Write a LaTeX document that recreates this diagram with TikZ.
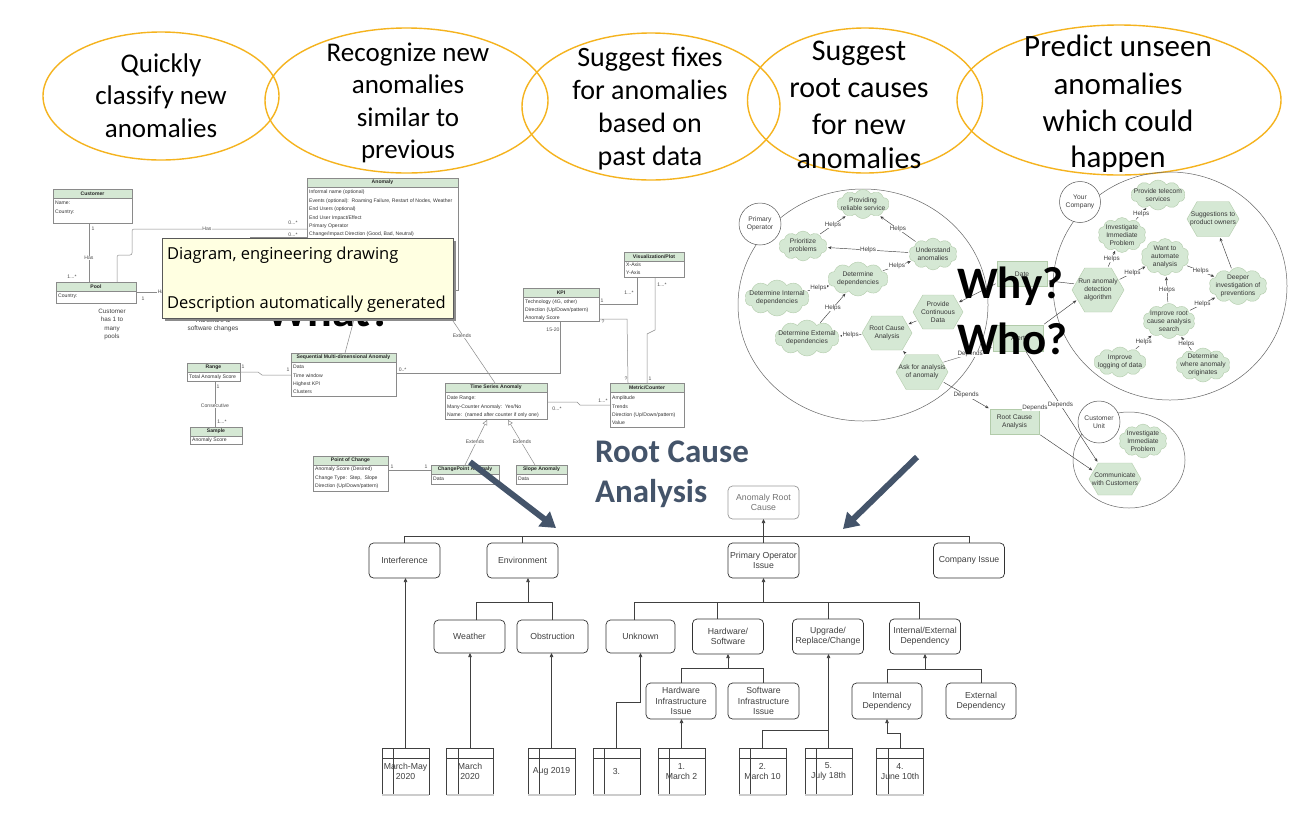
\documentclass[tikz,border=0pt]{standalone}
\usepackage{fontspec}
\setmainfont{Carlito}
\newfontfamily\arialf{Liberation Sans}
\newfontfamily\segoef{Open Sans}
\usetikzlibrary{arrows.meta,shapes.symbols,shapes.geometric}
\definecolor{gold}{HTML}{F5B31E}
\definecolor{umlhead}{HTML}{D5E8D4}
\definecolor{umlline}{HTML}{8A8A8A}
\definecolor{slate}{HTML}{44546A}
\definecolor{cgreen}{HTML}{D5E8D4}
\definecolor{cline}{HTML}{B2CBAA}
\definecolor{popfill}{HTML}{FFFFE1}
\tikzset{
  goldell/.style={draw=gold, line width=1.4pt},
  bub/.style={font=\fontsize{#1}{#1}\selectfont, anchor=base, inner sep=0pt, text=black},
  umlframe/.style={rectangle, draw=umlline, fill=white, line width=0.5pt, inner sep=0pt, outer sep=0pt},
  umlhd/.style={draw=umlline, fill=umlhead, line width=0.5pt},
  umlt/.style={font=\arialf\bfseries\fontsize{5.1}{6}\selectfont, inner sep=0pt, text=black!85},
  umlx/.style={font=\arialf\fontsize{5.1}{#1}\selectfont, inner sep=0pt, anchor=north west, align=left, text=black!80},
  umlc/.style={draw=umlline, line width=0.5pt},
  umll/.style={font=\arialf\fontsize{5.1}{6}\selectfont, inner sep=0.6pt, text=black!70},
  cld/.style={cloud, cloud puffs=10, cloud puff arc=120, cloud ignores aspect, fill=cgreen, draw=cline, line width=0.4pt, inner sep=0pt, outer sep=0pt},
  hexs/.style={signal, signal to=east and west, signal pointer angle=120, fill=cgreen, draw=cline, line width=0.4pt, inner sep=0pt, outer sep=0pt},
  grect/.style={rectangle, fill=cgreen, draw=cline, line width=0.5pt, inner sep=0pt, outer sep=0pt},
  ctx/.style={font=\arialf\fontsize{6.7}{8.2}\selectfont, text=black!78, align=center, inner sep=0pt},
  scirc/.style={circle, draw=black!65, fill=white, line width=0.5pt, inner sep=0pt, font=\arialf\fontsize{6.7}{8.2}\selectfont, text=black!75, align=center},
  bigc/.style={draw=black!60, line width=0.5pt},
  carr/.style={draw=black!75, line width=0.45pt, -{Stealth[length=3.5pt,width=3pt]}, shorten >=1.5pt, shorten <=1.5pt},
  cln/.style={draw=black!55, line width=0.45pt, shorten >=1pt, shorten <=1pt},
  hl/.style={font=\arialf\fontsize{6.3}{7}\selectfont, fill=white, inner sep=0.4pt, text=black!75},
  bigq/.style={font=\bfseries\fontsize{46}{50}\selectfont, anchor=base west, inner sep=0pt, text=black},
  tb/.style={rectangle, draw=black!80, line width=0.7pt, rounded corners=4.5pt, fill=white, font=\arialf\fontsize{8.7}{10.3}\selectfont, text=black!75, align=center, inner sep=0pt, outer sep=0pt, minimum width=71pt, minimum height=35pt},
  tl/.style={draw=black!75, line width=0.7pt},
  ta/.style={tl, -{Triangle[length=4pt,width=3.5pt]}},
  evb/.style={rectangle, inner sep=0pt, outer sep=0pt, minimum width=47pt, minimum height=47pt, font=\arialf\fontsize{8.7}{10.3}\selectfont, text=black!75, align=center},
  bigarrow/.style={draw=slate, line width=6pt, -{Triangle[length=15pt,width=18pt]}}
}
\newcommand{\umlcls}[6]{%
  \node[umlframe, minimum width={#4-#2}, minimum height={#5-#3}] (#1) at ({(#2+#4)/2},{(#3+#5)/2}) {};
  \draw[umlhd] (#1.north west) rectangle ([yshift=-9pt]#1.north east);
  \node[umlt] (#1h) at ([yshift=-4.5pt]#1.north) {#6};}
\newcommand{\mkcloud}[6]{\node[cld, minimum width=#4pt, minimum height=#5pt] (#1) at (#2,#3) {};\node[ctx] (#1t) at (#2,#3) {#6};}
\newcommand{\mkhex}[6]{\node[hexs, minimum width=#4pt, minimum height=#5pt] (#1) at (#2,#3) {};\node[ctx] (#1t) at (#2,#3) {#6};}
\newcommand{\mkrect}[6]{\node[grect, minimum width=#4pt, minimum height=#5pt] (#1) at (#2,#3) {};\node[ctx] (#1t) at (#2,#3) {#6};}
\newcommand{\evbox}[3]{%
  \node[evb] (#1) at (#2,771.5) {#3};
  \draw[tl] (#1.south west) -- (#1.north west) -- (#1.north east) -- (#1.south east);
  \draw[tl] ([yshift=-10pt]#1.north west) -- ([yshift=-10pt]#1.north east);
  \draw[tl] ([xshift=11.5pt]#1.north west) -- ([xshift=11.5pt]#1.south west);
  \draw[black!20, line width=1.2pt] (#1.south west) -- (#1.south east);}
\begin{document}
\begin{tikzpicture}[x=1pt,y=-1pt]
\useasboundingbox (0,0) rectangle (1300,812);
\fill[white] (0,0) rectangle (1300,812);

% ---------------- goal bubbles
\draw[goldell] (161,96) ellipse [x radius=118pt, y radius=64pt];
\draw[goldell] (406.5,100.5) ellipse [x radius=141.5pt, y radius=72.5pt];
\draw[goldell] (651,106.5) ellipse [x radius=129pt, y radius=73.5pt];
\draw[goldell] (865,100.5) ellipse [x radius=117.5pt, y radius=72.5pt];
\draw[goldell] (1119,100) ellipse [x radius=162pt, y radius=75pt];
\node[bub=27] (b1a) at (161,72) {Quickly};
\node[bub=27] (b1b) at (161,104) {classify new};
\node[bub=27] (b1c) at (161,137) {anomalies};
\node[bub=27] (b2a) at (408,61) {Recognize new};
\node[bub=27] (b2b) at (408,93.5) {anomalies};
\node[bub=27] (b2c) at (408,126) {similar to};
\node[bub=27] (b2d) at (408,158.5) {previous};
\node[bub=28] (b3a) at (650,66) {Suggest fixes};
\node[bub=28] (b3b) at (650,99) {for anomalies};
\node[bub=28] (b3c) at (650,132) {based on};
\node[bub=28] (b3d) at (650,165) {past data};
\node[bub=30] (b4a) at (859,60) {Suggest};
\node[bub=30] (b4b) at (859,97.5) {root causes};
\node[bub=30] (b4c) at (859,134.5) {for new};
\node[bub=30] (b4d) at (859,168.5) {anomalies};
\node[bub=31] (b5a) at (1118,56) {Predict unseen};
\node[bub=31] (b5b) at (1118,94) {anomalies};
\node[bub=31] (b5c) at (1118,131) {which could};
\node[bub=31] (b5d) at (1118,167) {happen};

% ---------------- UML (What?)
\draw[umlc] (89,223) -- (89,282);
\draw[umlc, rounded corners=2pt] (117,282) -- (117,255) -- (132,255) -- (132,229) -- (307,229);
\draw[umlc] (136,292) -- (250,292) -- (250,237) -- (307,237);
\draw[umlc] (362,290) -- (345,353);
\draw[umlc] (432,290) -- (495,383);
\draw[umlc] (240,372) -- (258,372) -- (262,375) -- (291,375);
\draw[umlc] (215,381) -- (215,427);
\draw[umlc] (560,321) -- (560,373) -- (396,373);
\draw[umlc] (599,304) -- (637,304) -- (637,277);
\draw[umlc] (599,319) -- (627,319) -- (628,383);
\draw[umlc] (655,277) -- (655,330) -- (647,334) -- (647,383);
\draw[umlc] (547,402) -- (577,402) -- (580,405) -- (610,405);
\draw[umlc, -{Triangle[open,length=5pt,width=5pt]}] (465,465) -- (487,420);
\draw[umlc, -{Triangle[open,length=5pt,width=5pt]}] (535,465) -- (508,420);
\draw[umlc] (388,470) -- (431,470);

\umlcls{cust}{53}{189}{132}{223}{Customer}
\node[umlx=9] (custx) at (55,201) {Name:\\Country:};
\umlcls{pool}{56}{282}{136}{303}{Pool}
\node[umlx=9] (poolx) at (58,294) {Country:};
\umlcls{anom}{307}{178}{458}{290}{Anomaly}
\node[umlx=8.4] (anomx) at (309,190) {Informal name (optional)\\Events (optional):\ \ Roaming Failure, Restart of Nodes, Weather\\End Users (optional)\\End User Impact/Effect\\Primary Operator\\Change/Impact Direction (Good, Bad, Neutral)};
\umlcls{rng}{187}{363}{240}{381}{Range}
\node[umlx=9] (rngx) at (189,375) {Total Anomaly Score};
\umlcls{smp}{190}{427}{242}{444}{Sample}
\node[umlx=9] (smpx) at (192,438) {Anomaly Score};
\umlcls{seq}{291}{353}{396}{396}{Sequential Multi-dimensional Anomaly}
\node[umlx=8.3] (seqx) at (293,365) {Data\\Time window\\Highest KPI\\Clusters};
\umlcls{poc}{313}{456}{388}{491}{Point of Change}
\node[umlx=8.5] (pocx) at (315,467) {Anomaly Score (Desired)\\Change Type:\ \ Step,\ \ Slope\\Direction (Up/Down/pattern)};
\umlcls{cpa}{431}{465}{499}{484}{ChangePoint Anomaly}
\node[umlx=9] (cpax) at (433,477) {Data};
\umlcls{slp}{516}{465}{567}{484}{Slope Anomaly}
\node[umlx=9] (slpx) at (518,477) {Data};
\umlcls{tsa}{445}{383}{547}{419}{Time Series Anomaly}
\node[umlx=8.5] (tsax) at (447,396) {Date Range:\\Many-Counter Anomaly:\ \ Yes/No\\Name:\ \ (named after counter if only one)};
\umlcls{kpi}{523}{288}{599}{321}{KPI}
\node[umlx=8] (kpix) at (525,300) {Technology (4G, other)\\Direction (Up/Down/pattern)\\Anomaly Score};
\umlcls{vis}{624}{252}{684}{277}{Visualization/Plot}
\node[umlx=8] (visx) at (626,263) {X-Axis\\Y-Axis};
\umlcls{met}{610}{383}{684}{427}{Metric/Counter}
\node[umlx=8.3] (metx) at (612,396) {Amplitude\\Trends\\Direction (Up/Down/pattern)\\Value};

\node[umll] (ul1) at (93,229) {1};
\node[umll, fill=white] (ul2) at (89,258) {Has};
\node[umll] (ul3) at (72,277) {1...*};
\node[umll, fill=white] (ul4) at (207,229) {Has};
\node[umll] (ul5) at (293,223) {0...*};
\node[umll] (ul6) at (293,234.5) {0...*};
\node[umll, fill=white, anchor=west] (ul7) at (157,292) {Has};
\node[umll] (ul8) at (143,299) {1};
\node[umll] (ul9) at (243,367) {1};
\node[umll] (ul10) at (288,370) {1};
\node[umll] (ul11) at (218,387) {1};
\node[umll, fill=white] (ul12) at (215,406) {Consecutive};
\node[umll] (ul13) at (222,422) {1...*};
\node[umll] (ul14) at (553,330) {15-20};
\node[umll, anchor=west] (ul15) at (398,370) {0..*};
\node[umll] (ul16) at (602,301) {1};
\node[umll] (ul17) at (629,293) {1...*};
\node[umll] (ul18) at (603,322) {?};
\node[umll] (ul19) at (662,285) {1...*};
\node[umll] (ul20) at (626,379) {?};
\node[umll] (ul21) at (650,379) {1};
\node[umll] (ul22) at (557,409) {0...*};
\node[umll] (ul23) at (603,401) {1...*};
\node[umll, fill=white] (ul24) at (475,442) {Extends};
\node[umll, fill=white] (ul25) at (522,442) {Extends};
\node[umll, fill=white] (ul26) at (462,336) {Extends};
\node[umll] (ul27) at (392,467) {1};
\node[umll] (ul28) at (426,467) {1};
\node[font=\arialf\fontsize{6.3}{8.3}\selectfont, align=center, text=black!75, inner sep=0pt] (cnote) at (112,324.5) {Customer\\has 1 to\\many\\pools};
\node[font=\arialf\fontsize{6.5}{8.3}\selectfont, align=center, text=black!75, inner sep=0pt] (hnote) at (213,325) {Hardware \&\\software changes};

\node[bigq] (what) at (266,326) {What?};
% popup
\fill[black!45] (165,241) rectangle (456,321);
\node[rectangle, draw=black!65, fill=popfill, line width=0.8pt, minimum width=291pt, minimum height=80pt, inner sep=0pt] (popup) at (307.5,278) {};
\node[font=\segoef\fontsize{16.5}{18}\selectfont, anchor=west, inner sep=0pt, text=black] (pop1) at (167,255) {Diagram, engineering drawing};
\node[font=\segoef\fontsize{16.5}{18}\selectfont, anchor=west, inner sep=0pt, text=black] (pop2) at (167,304) {Description automatically generated};

% ---------------- Root cause analysis heading + arrows
\node[font=\bfseries\fontsize{33}{36}\selectfont, text=slate, anchor=base west, inner sep=0pt] (rcah1) at (595,462) {Root Cause};
\node[font=\bfseries\fontsize{33}{36}\selectfont, text=slate, anchor=base west, inner sep=0pt] (rcah2) at (595,502) {Analysis};
\coordinate (la1) at (470,462);
\coordinate (la2) at (556,528);
\coordinate (ra1) at (917,457);
\coordinate (ra2) at (843,529);
\draw[bigarrow] (la1) -- (la2);
\draw[bigarrow] (ra1) -- (ra2);

% ---------------- Why / Who diagram
\draw[bigc] (863,305) ellipse [x radius=125pt, y radius=116pt];
\draw[bigc] (1170,286) ellipse [x radius=117pt, y radius=114pt];
\draw[bigc] (1129,460) ellipse [x radius=56pt, y radius=48pt];
\node[scirc, minimum size=42pt] (po) at (760,224) {Primary\\Operator};
\node[scirc, minimum size=41pt] (yc) at (1080,202) {Your\\Company};

\mkcloud{provid}{863}{204}{52}{29}{Providing\\reliable service}
\mkcloud{prior}{803}{246}{48}{30}{Prioritize\\problems}
\mkcloud{under}{933}{254}{48}{32}{Understand\\anomalies}
\mkcloud{detdep}{858}{279}{60}{34}{Determine\\dependencies}
\mkcloud{detint}{777}{298}{64}{36}{Determine Internal\\dependencies}
\mkcloud{detext}{807}{338}{64}{36}{Determine External\\dependencies}
\mkhex{pcd}{938}{312}{50}{34}{Provide\\Continuous\\Data}
\mkhex{rcahx}{887}{333}{50}{34}{Root Cause\\Analysis}
\mkhex{ask}{922}{372}{52}{35}{Ask for analysis\\of anomaly}
\mkcloud{tele}{1158}{195}{54}{30}{Provide telecom\\services}
\mkhex{sugg}{1213}{219}{52}{35}{Suggestions to\\product owners}
\mkcloud{inv}{1122}{235}{48}{35}{Investigate\\Immediate\\Problem}
\mkcloud{want}{1165}{257}{48}{37}{Want to\\automate\\analysis}
\mkhex{run}{1098}{290}{52}{44}{Run anomaly\\detection\\algorithm}
\mkcloud{deeper}{1238}{286}{58}{37}{Deeper\\investigation of\\preventions}
\mkcloud{imprc}{1169}{321}{52}{35}{Improve root\\cause analysis\\search}
\mkcloud{implog}{1120}{362}{52}{30}{Improve\\logging of data}
\mkcloud{detwh}{1203}{365}{54}{34}{Determine\\where anomaly\\originates}
\mkrect{daterect}{1022}{274}{50}{25}{Date}
\mkrect{alertrect}{1018}{338}{50}{26}{Alert}
\mkrect{rcarect}{1014.5}{421.5}{49}{25}{Root Cause\\Analysis}
\node[scirc, minimum size=42pt] (cu) at (1099,422) {Customer\\Unit};
\mkcloud{invcu}{1143}{441}{48}{34}{Investigate\\Immediate\\Problem}
\mkhex{comm}{1115}{479}{52}{32}{Communicate\\with Customers}

\draw[carr] (prior) -- node[hl]{Helps} (provid);
\draw[carr] (under) -- node[hl]{Helps} (provid);
\draw[carr] (under) -- node[hl]{Helps} (prior);
\draw[carr] (detdep) -- node[hl]{Helps} (under);
\draw[carr] (detint) -- node[hl]{Helps} (detdep);
\draw[carr] (detext) -- node[hl]{Helps} (detdep);
\draw[carr] (rcahx) -- node[hl]{Helps} (detext);
\draw[carr] (pcd) -- (rcahx);
\draw[carr] (ask) -- (rcahx);
\draw[carr] (daterect.200) -- (pcd.25);
\draw[carr] (run.165) -- (daterect.-15);
\draw[carr] (alertrect.north east) -- (run.205);
\draw[cln] (ask.25) -- node[hl, pos=0.55]{Depends} (alertrect.200);
\draw[carr] (ask.-25) -- node[hl]{Depends} (rcarect.north west);
\draw[carr] (alertrect.-60) -- node[hl, pos=0.48]{Depends} (comm.north west);
\draw[carr] (rcarect.south east) -- (comm.160);
\node[hl] (dep4) at (1035,408) {Depends};

\draw[carr] (inv) -- node[hl]{Helps} (tele);
\draw[carr] (run) -- node[hl]{Helps} (inv);
\draw[carr] (run) -- node[hl]{Helps} (want);
\draw[carr] (want) -- node[hl]{Helps} (deeper);
\draw[carr] (deeper) -- (sugg);
\draw[carr] (imprc) -- node[hl]{Helps} (want);
\draw[carr] (imprc) -- node[hl]{Helps} (deeper);
\draw[carr] (implog) -- node[hl]{Helps} (imprc);
\draw[carr] (detwh) -- node[hl]{Helps} (imprc);

\node[bigq, font=\bfseries\fontsize{45}{50}\selectfont] (why) at (957,298) {Why?};
\node[bigq, font=\bfseries\fontsize{45}{50}\selectfont] (who) at (957,354) {Who?};

% ---------------- Root cause tree
\node[tb, draw=black!40, text=black!55, minimum height=33pt] (arc) at (763.5,502.5) {Anomaly Root\\Cause};
\node[tb] (interf) at (404.5,560.5) {Interference};
\node[tb] (envi) at (522.5,560.5) {Environment};
\node[tb] (poi) at (763.5,560.5) {Primary Operator\\Issue};
\node[tb] (comp) at (969,560.5) {Company Issue};
\node[tb, minimum height=33pt] (weat) at (469.5,636.5) {Weather};
\node[tb, minimum height=33pt] (obst) at (552.5,636.5) {Obstruction};
\node[tb, minimum height=33pt, minimum width=69pt] (unkn) at (640.5,636.5) {Unknown};
\node[tb] (hwsw) at (728,636.5) {Hardware/\\Software};
\node[tb] (upg) at (828,636.5) {Upgrade/\\Replace/Change};
\node[tb] (intext) at (925,636.5) {Internal/External\\Dependency};
\node[tb, minimum width=70pt, minimum height=36pt] (hwi) at (681,701) {Hardware\\Infrastructure\\Issue};
\node[tb, minimum height=36pt] (swi) at (763.5,701) {Software\\Infrastructure\\Issue};
\node[tb, minimum width=70pt, minimum height=36pt] (intd) at (887,701) {Internal\\Dependency};
\node[tb, minimum width=70pt, minimum height=36pt] (extd) at (981,701) {External\\Dependency};

\coordinate (busA) at (0,536);
\coordinate (busB) at (0,602);
\coordinate (busC) at (0,668);
\coordinate (busD) at (0,669);
\draw[tl] (interf.north) -- (interf.north |- busA) -- (comp.north |- busA) -- (comp.north);
\draw[tl] (envi.north) -- (envi.north |- busA);
\draw[ta] (poi.north) -- (arc.south);
\draw[tl] ([xshift=6.5pt]weat.north) -- ([xshift=6.5pt]weat.north |- busB) -- (obst.north |- busB) -- (obst.north);
\draw[ta] ([xshift=5.5pt]envi.south |- busB) -- ([xshift=5.5pt]envi.south);
\draw[tl] ([xshift=-6.5pt]unkn.north) -- ([xshift=-6.5pt]unkn.north |- busB) -- ([xshift=-6pt]intext.north |- busB) -- ([xshift=-6pt]intext.north);
\draw[tl] ([xshift=-11pt]hwsw.north |- busB) -- ([xshift=-11pt]hwsw.north);
\draw[tl] (upg.north |- busB) -- (upg.north);
\draw[ta] (poi.south |- busB) -- (poi.south);
\draw[tl] (hwi.north) -- (hwi.north |- busC) -- (swi.north |- busC) -- (swi.north);
\draw[ta] (hwsw.south |- busC) -- (hwsw.south);
\draw[tl] (intd.north) -- (intd.north |- busD) -- (extd.north |- busD) -- (extd.north);
\draw[ta] (intext.south |- busD) -- (intext.south);

\evbox{ev1}{405.5}{March-May\\2020}
\evbox{ev2}{470}{March\\2020}
\evbox{ev3}{551.5}{Aug 2019}
\evbox{ev4}{616.5}{3.}
\evbox{ev5}{681.5}{1.\\March 2}
\evbox{ev6}{762.5}{2.\\March 10}
\evbox{ev7}{828.5}{5.\\July 18th}
\evbox{ev8}{900}{4.\\June 10th}
\coordinate (j4) at (0,702);
\coordinate (j6) at (0,730);
\coordinate (j8) at (0,733);
\draw[ta] (ev1.north) -- (ev1.north |- interf.south);
\draw[ta] (ev2.north) -- (ev2.north |- weat.south);
\draw[ta] (ev3.north) -- (ev3.north |- obst.south);
\draw[ta] (ev4.north) -- (ev4.north |- j4) -- (unkn.south |- j4) -- (unkn.south);
\draw[ta] (ev5.north) -- (ev5.north |- hwi.south);
\draw[tl] (ev6.north) -- (ev6.north |- j6) -- (ev7.north |- j6);
\draw[ta] (ev7.north) -- (ev7.north |- upg.south);
\draw[ta] (ev8.north) -- (ev8.north |- j8) -- (intd.south |- j8) -- (intd.south);
\end{tikzpicture}
\end{document}
